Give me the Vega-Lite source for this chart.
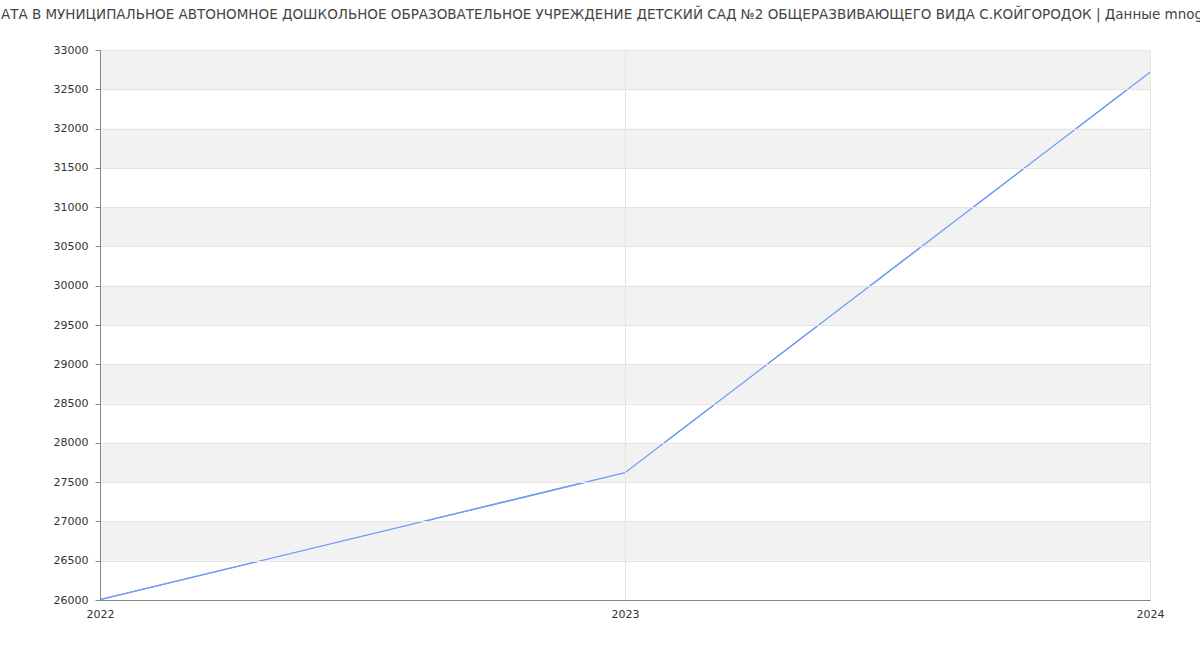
{
  "$schema": "https://vega.github.io/schema/vega-lite/v6.json",
  "width": 1050,
  "height": 550,
  "autosize": "none",
  "padding": {"left": 100, "top": 50, "right": 50, "bottom": 50},
  "background": "white",
  "title": {
    "text": "ЗАРПЛАТА В МУНИЦИПАЛЬНОЕ АВТОНОМНОЕ ДОШКОЛЬНОЕ ОБРАЗОВАТЕЛЬНОЕ УЧРЕЖДЕНИЕ ДЕТСКИЙ САД №2 ОБЩЕРАЗВИВАЮЩЕГО ВИДА С.КОЙГОРОДОК | Данные mnogo.ru",
    "anchor": "middle",
    "frame": "group",
    "dx": -33,
    "offset": 23,
    "font": "DejaVu Sans",
    "fontSize": 13.5,
    "fontWeight": "normal",
    "color": "#444444"
  },
  "config": {
    "view": {"stroke": null},
    "axis": {"labelFont": "DejaVu Sans", "labelFontSize": 11, "labelColor": "#333333", "labelOverlap": false},
    "axisY": {"labelOverlap": false},
    "axisQuantitative": {"labelOverlap": false}
  },
  "datasets": {
    "bands": [
      {"lo": 32500, "hi": 33000},
      {"lo": 31500, "hi": 32000},
      {"lo": 30500, "hi": 31000},
      {"lo": 29500, "hi": 30000},
      {"lo": 28500, "hi": 29000},
      {"lo": 27500, "hi": 28000},
      {"lo": 26500, "hi": 27000}
    ],
    "series": [
      {"year": 2022, "value": 26005},
      {"year": 2023, "value": 27620},
      {"year": 2024, "value": 32716}
    ]
  },
  "layer": [
    {
      "data": {"name": "series"},
      "mark": {"type": "line", "color": "#6f9cf4", "strokeWidth": 1.3},
      "encoding": {
        "x": {
          "field": "year",
          "type": "quantitative",
          "scale": {"domain": [2022, 2024], "nice": false, "zero": false},
          "axis": {
            "title": null,
            "values": [2022, 2023, 2024],
            "format": ".0f",
            "labelFlush": false,
            "labelOverlap": false,
            "ticks": false,
            "labelPadding": 8,
            "grid": true,
            "gridColor": "#e4e4e4",
            "domainColor": "#888888",
            "zindex": 1
          }
        },
        "y": {
          "field": "value",
          "type": "quantitative",
          "scale": {"domain": [26000, 33000], "nice": false, "zero": false},
          "axis": {
            "title": null,
            "tickCount": 15,
            "format": ".0f",
            "labelFlush": false,
            "labelOverlap": false,
            "labelSeparation": 0,
            "tickSize": 5,
            "tickColor": "#888888",
            "labelPadding": 7,
            "grid": true,
            "gridColor": "#e4e4e4",
            "domainColor": "#888888",
            "zindex": 1
          }
        }
      }
    },
    {
      "data": {"name": "bands"},
      "mark": {"type": "rect", "fill": "#f2f2f2"},
      "encoding": {
        "x": {"datum": 2022, "type": "quantitative"},
        "x2": {"datum": 2024},
        "y": {"field": "lo", "type": "quantitative"},
        "y2": {"field": "hi"}
      }
    },
    {
      "data": {"name": "series"},
      "mark": {"type": "line", "color": "#6f9cf4", "strokeWidth": 1.3},
      "encoding": {
        "x": {"field": "year", "type": "quantitative"},
        "y": {"field": "value", "type": "quantitative"}
      }
    }
  ]
}
